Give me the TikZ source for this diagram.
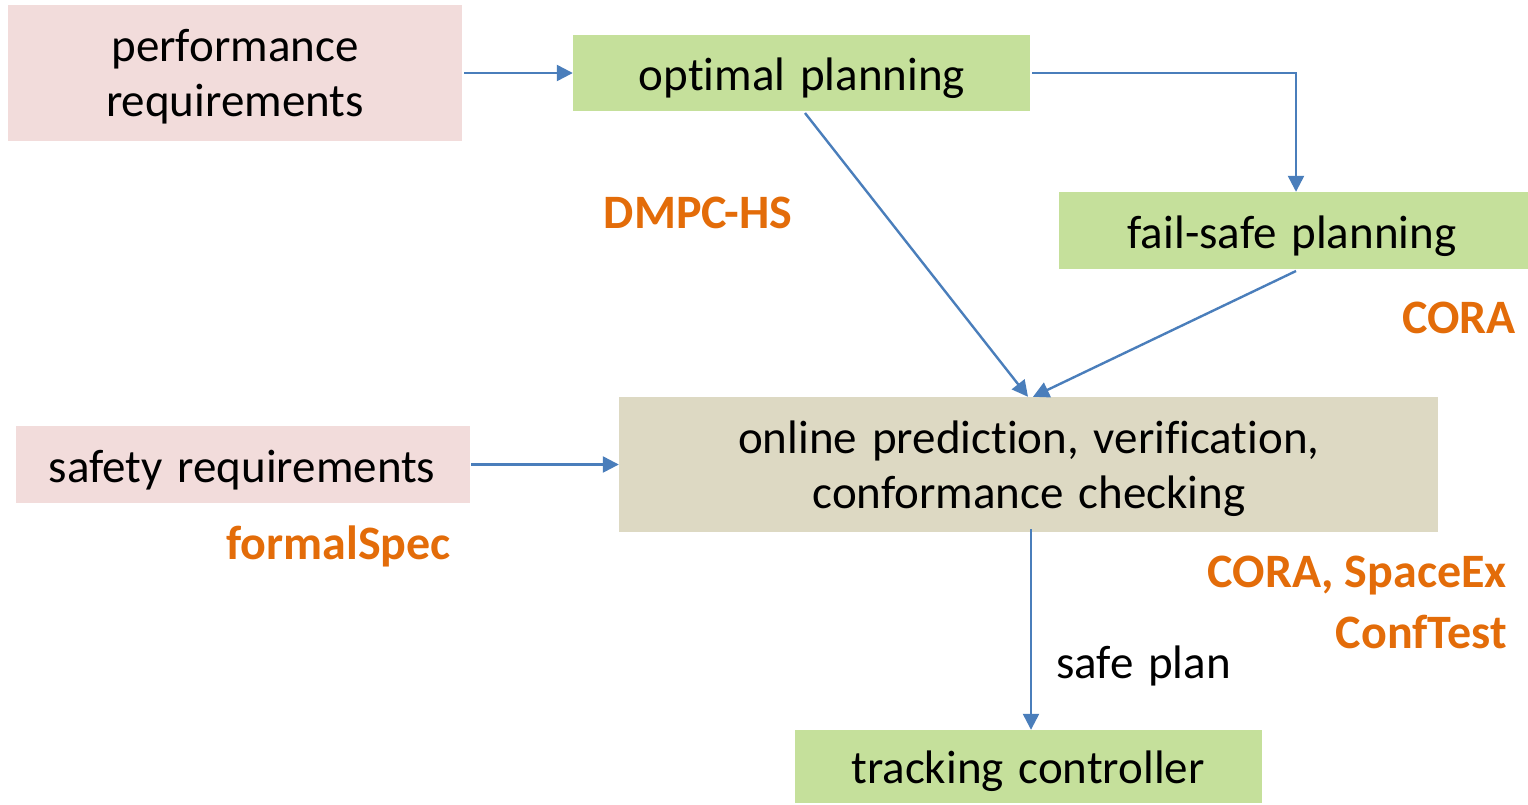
\documentclass[tikz,border=0pt]{standalone}
\usepackage{fontspec}
\setmainfont{Carlito}[Ligatures=NoCommon, WordSpace=1.4]
\newfontfamily\toolfont{Carlito}[Ligatures=NoCommon]
\usetikzlibrary{arrows.meta}
\definecolor{reqpink}{HTML}{F2DCDB}
\definecolor{plangreen}{HTML}{C5E09B}
\definecolor{checktan}{HTML}{DDD9C3}
\definecolor{linkblue}{HTML}{4A7EBB}
\definecolor{tooltext}{HTML}{E36C09}
\tikzset{
  blockbox/.style={rectangle, inner sep=0pt, align=center,
    font=\fontsize{47}{55}\selectfont, text=black},
  reqbox/.style={blockbox, fill=reqpink},
  planbox/.style={blockbox, fill=plangreen},
  checkbox/.style={blockbox, fill=checktan},
  toolname/.style={inner sep=0pt, text=tooltext, font=\toolfont\fontsize{48}{56}\selectfont\bfseries},
  flow/.style={draw=linkblue, line width=2.4pt, -{Triangle[length=16pt,width=16pt]}}
}
\begin{document}
\begin{tikzpicture}[x=1pt,y=-1pt]
  \useasboundingbox (0,0) rectangle (1528,804);

  % blocks
  \node[reqbox, minimum width=454pt, minimum height=136pt] (perf) at (235,73) {};
  \node[planbox, minimum width=457pt, minimum height=76pt] (opt) at (801.5,73) {};
  \node[planbox, minimum width=469pt, minimum height=77pt] (fail) at (1293.5,230.5) {};
  \node[checkbox, minimum width=819pt, minimum height=135pt] (online) at (1028.5,464.5) {};
  \node[reqbox, minimum width=454pt, minimum height=77pt] (safety) at (243,464.5) {};
  \node[planbox, minimum width=467pt, minimum height=73pt] (track) at (1028.5,766.5) {};

  % block texts
  \node[blockbox] (perftext) at (235,77) {performance\\requirements};
  \node[blockbox] (opttext) at (802,78) {optimal planning};
  \node[blockbox] (failtext) at (1292,236) {fail-safe planning};
  \node[blockbox] (onlinetext) at (1029,469) {online prediction, verification,\\conformance checking};
  \node[blockbox] (safetytext) at (242,470) {safety requirements};
  \node[blockbox] (tracktext) at (1028,771) {tracking controller};

  % connection points
  \coordinate (optS) at (805,113);
  \coordinate (failS) at (1296,271);
  \coordinate (corner) at (1296,73);

  % connectors
  \draw[flow] ([xshift=2pt]perf.east) -- (opt.west);
  \draw[flow] ([xshift=2pt]opt.east) -- (corner) -- (fail.north -| corner);
  \draw[flow] (optS) -- ([xshift=-0.5pt]online.north);
  \draw[flow] (failS) -- ([xshift=4.5pt]online.north);
  \draw[flow] ([xshift=1pt]safety.east) -- (online.west);
  \draw[flow] ([xshift=2.5pt,yshift=3pt]online.south) -- ([xshift=2.5pt]track.north);

  % labels
  \node[toolname, anchor=center] (dmpc) at (698,213) {DMPC-HS};
  \node[toolname, anchor=east] (cora) at (1516,318) {CORA};
  \node[toolname, anchor=east] (fspec) at (451,546) {formalSpec};
  \node[toolname, anchor=east] (spx) at (1507,576) {CORA, SpaceEx};
  \node[toolname, anchor=east] (ctest) at (1507,632) {ConfTest};
  \node[inner sep=0pt, anchor=west, font=\fontsize{47}{55}\selectfont] (safeplan) at (1056,666) {safe plan};
\end{tikzpicture}
\end{document}
